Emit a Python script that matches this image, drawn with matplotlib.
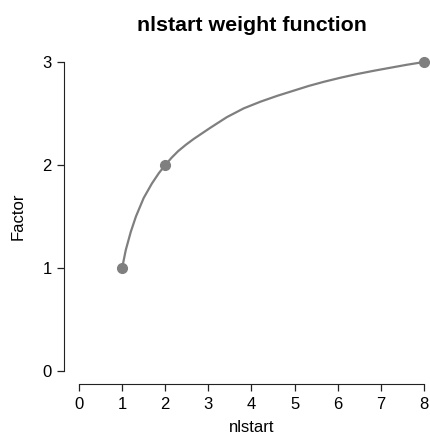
#======================================================================
#   IMPORTS:
#======================================================================

from matplotlib import pyplot as plt


#======================================================================
#   GLOBALS:
#======================================================================

ls_nlstart = [1, 2, 8]                  # knots of the weight function
ls_factor = [1, 2, 3]

# sampled weight curve between the knots
ls_curve_x = [1.0, 1.085, 1.2, 1.32, 1.5, 1.69, 1.85, 2.0, 2.15, 2.3, 2.48,
              2.66, 3.04, 3.43, 3.82, 4.21, 4.6, 4.98, 5.33, 5.68, 6.07,
              6.46, 6.85, 7.23, 7.6, 8.0]
ls_curve_y = [1.0, 1.175, 1.35, 1.5, 1.68, 1.82, 1.92, 2.0, 2.072, 2.135,
              2.197, 2.253, 2.36, 2.465, 2.55, 2.615, 2.672, 2.722, 2.768,
              2.808, 2.848, 2.884, 2.916, 2.945, 2.973, 3.0]

ls_xticks = [0, 1, 2, 3, 4, 5, 6, 7, 8]
ls_yticks = [0, 1, 2, 3]

s_out_file = 'out.png'


#======================================================================
#   MAIN:
#======================================================================

if (__name__ == '__main__'):

    plt.rcParams['font.family'] = ['Liberation Sans', 'DejaVu Sans']

    fig = plt.figure(figsize=(4.30, 4.34), dpi=100)
    ax = fig.add_axes([79/430, 1 - 371/434, 345/430, 309/434])

    s_grey = '#7f7f7f'
    ax.plot(ls_curve_x, ls_curve_y, color=s_grey, lw=1.6, clip_on=False,
            solid_capstyle='round', solid_joinstyle='round')
    ax.plot(ls_nlstart, ls_factor, 'o', color=s_grey, ms=7, clip_on=False)

    ax.set_xlim(0, 8)
    ax.set_ylim(0, 3)
    ax.set_xticks(ls_xticks)
    ax.set_yticks(ls_yticks)

    # base-graphics look: detached axes, no box
    for s in ['top', 'right']:
        ax.spines[s].set_visible(False)
    ax.spines['bottom'].set_position(('outward', 9.5))
    ax.spines['left'].set_position(('outward', 10.5))
    ax.spines['bottom'].set_color('#222222')
    ax.spines['left'].set_color('#222222')
    ax.tick_params(length=5, width=0.9, color='#222222', labelsize=12,
                   pad=4)

    ax.set_xlabel('nlstart', fontsize=12, labelpad=6)
    ax.set_ylabel('Factor', fontsize=12, labelpad=12.5)
    ax.set_title('nlstart weight function', fontsize=15.4, fontweight='bold',
                 pad=22)

    fig.savefig(s_out_file, dpi=100)
